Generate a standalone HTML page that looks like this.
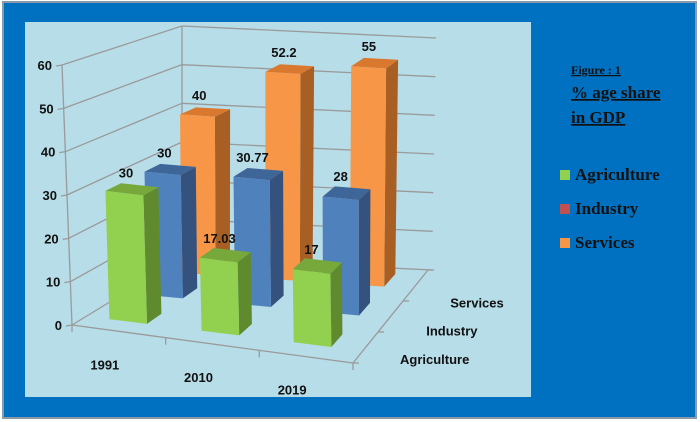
<!DOCTYPE html>
<html><head><meta charset="utf-8"><style>
html,body{margin:0;padding:0;}
body{width:700px;height:422px;overflow:hidden;background:#fff;}
svg{display:block;}
</style></head><body>
<svg id="chart" width="700" height="422" xmlns="http://www.w3.org/2000/svg">
<rect x="3" y="2" width="693" height="416" fill="#0070c0" stroke="#8a9aa8" stroke-width="2"/>
<rect x="25" y="22" width="506" height="375" fill="#b7dde8"/>
<g id="grid"></g>
<g id="bars"></g>
<g id="labels" font-family="Liberation Sans, sans-serif" font-weight="bold" font-size="13" fill="#111"></g>
<g font-family="Liberation Serif, serif" font-weight="bold" fill="#111">
<text x="571" y="74" font-size="12" text-decoration="underline">Figure : 1</text>
<text x="571" y="98" font-size="17" text-decoration="underline">% age share</text>
<text x="571" y="123" font-size="17" text-decoration="underline"> in GDP</text>
<rect x="560" y="170" width="10" height="10" fill="#92d050"/>
<text x="575" y="180" font-size="17">Agriculture</text>
<rect x="560" y="204" width="10" height="10" fill="#c0504d"/>
<text x="575" y="214" font-size="17">Industry</text>
<rect x="560" y="238" width="10" height="10" fill="#f79646"/>
<text x="575" y="248" font-size="17">Services</text>
</g>
</svg>
<script>
const categories = ["1991", "2010", "2019"];
const seriesNames = ["Agriculture", "Industry", "Services"];
const agricultureValues = [30, 17.03, 17];
const industryValues = [30, 30.77, 28];
const servicesValues = [40, 52.2, 55];
const valueLabels = ["30", "17.03", "17", "30", "30.77", "28", "40", "52.2", "55"];
const yTicks = [0, 10, 20, 30, 40, 50, 60];

const NS = "http://www.w3.org/2000/svg";
const VMAX = 60;
// box corners (front/back, left/right, bottom/top)
const C = {
  FLB:[72,325], FRB:[353,363], BLB:[182,258], BRB:[428,270],
  FLT:[62,65],  FRT:[350,101], BLT:[182,26],  BRT:[432,38]
};
function lerp(a,b,t){return [a[0]+(b[0]-a[0])*t, a[1]+(b[1]-a[1])*t];}
function P(x,z,v){
  const t=v/VMAX;
  const fb=lerp(lerp(C.FLB,C.FRB,x), lerp(C.BLB,C.BRB,x), z);
  const ft=lerp(lerp(C.FLT,C.FRT,x), lerp(C.BLT,C.BRT,x), z);
  return lerp(fb,ft,t);
}
function pts(a){return a.map(p=>p[0].toFixed(1)+","+p[1].toFixed(1)).join(" ");}
function xCenter(i){return (i+0.5)/categories.length - 0.015;}
const zCenters=[0.2,0.55,0.87];
const HX=0.068, HZ=0.07;

const grid=document.getElementById('grid');
function line(a,b,name){
  const l=document.createElementNS(NS,'line');
  l.setAttribute('x1',a[0]);l.setAttribute('y1',a[1]);l.setAttribute('x2',b[0]);l.setAttribute('y2',b[1]);
  l.setAttribute('stroke','#9a9a9a');l.setAttribute('stroke-width','1.3');
  
  
  grid.appendChild(l);
}
const labels=document.getElementById('labels');
function text(x,y,s,name,anchor){
  const t=document.createElementNS(NS,'text');
  t.setAttribute('x',x);t.setAttribute('y',y);t.setAttribute('text-anchor',anchor||'middle');
  t.textContent=s;
  
  
  labels.appendChild(t);
}
yTicks.forEach(v=>{
  const f=P(0,0,v), b=P(0,1,v), r=P(1,1,v);
  line([f[0]-6,f[1]+1],f,'y-tick');
  line(f,b,'left-wall-gridline');
  line(b,[r[0]+4,r[1]],'back-wall-gridline');
  text(f[0]-10,f[1]+5,String(v),'y-tick-label','end');
});
line(C.FLT,C.FLB,'y-axis-line');
line(C.BLT,C.BLB,'back-left-edge');
line(C.FLB,C.FRB,'x-axis-line');
line(C.FRB,C.BRB,'depth-axis-line');
for(let i=0;i<=categories.length;i++){const p=P(i/categories.length,0,0);line(p,[p[0],p[1]+7],'x-tick');}
for(let j=0;j<=3;j++){const p=P(1,j/3,0);line(p,[p[0]+6,p[1]],'depth-tick');}
categories.forEach((c,i)=>{const p=P(xCenter(i)+0.015,0,0);text(p[0]-14,p[1]+38,c,'x-label-'+c);});
const depthNames=["Agriculture","Industry","Services"];
depthNames.forEach((n,j)=>{const p=P(1,zCenters[j]-0.08,0);text(p[0]+38,p[1]+(j===2?18:j===1?16:12),n,'depth-label-'+n.toLowerCase(),'start');});

const seriesVals=[agricultureValues,industryValues,servicesValues];
const colors=[["#92d050","#5f8a2e","#77a83c"],["#4f81bd","#34527d","#3f6699"],["#f79646","#a75f24","#d9782f"]];
const bars=document.getElementById('bars');
function poly(p,fill,name){
  const e=document.createElementNS(NS,'polygon');
  e.setAttribute('points',pts(p));e.setAttribute('fill',fill);
  
  
  bars.appendChild(e);
}
for(let s=2;s>=0;s--){
  seriesVals[s].forEach((v,i)=>{
    const x0=xCenter(i)-HX,x1=xCenter(i)+HX,z0=zCenters[s]-HZ,z1=zCenters[s]+HZ;
    const nm='bar-'+seriesNames[s].toLowerCase()+'-'+categories[i];
    poly([P(x1,z0,0),P(x1,z1,0),P(x1,z1,v),P(x1,z0,v)],colors[s][1],nm+'-side');
    poly([P(x0,z0,v),P(x1,z0,v),P(x1,z1,v),P(x0,z1,v)],colors[s][2],nm+'-top');
    poly([P(x0,z0,0),P(x1,z0,0),P(x1,z0,v),P(x0,z0,v)],colors[s][0],nm);
    const t=P(xCenter(i),zCenters[s],v);
    text(t[0]-6,t[1]-12,valueLabels[s*3+i],'value-label-'+seriesNames[s].toLowerCase()+'-'+categories[i]);
  });
}
</script>
</body></html>
